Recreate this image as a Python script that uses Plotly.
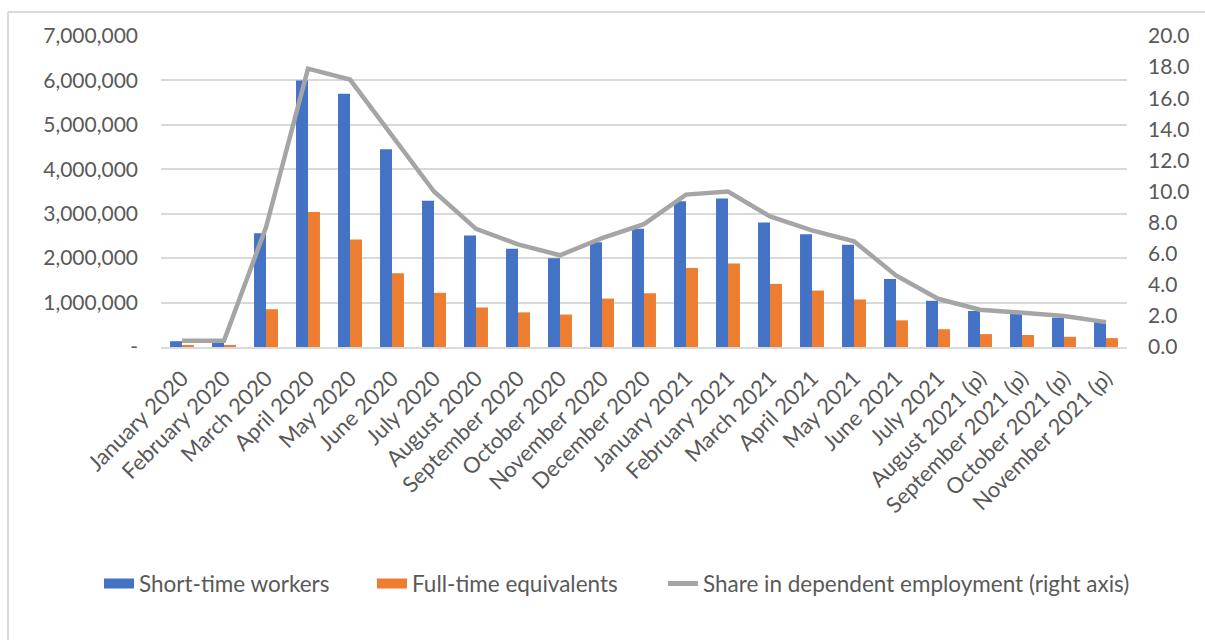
import plotly.graph_objects as go

months = ["January 2020", "February 2020", "March 2020", "April 2020", "May 2020", "June 2020",
          "July 2020", "August 2020", "September 2020", "October 2020", "November 2020",
          "December 2020", "January 2021", "February 2021", "March 2021", "April 2021",
          "May 2021", "June 2021", "July 2021", "August 2021 (p)", "September 2021 (p)",
          "October 2021 (p)", "November 2021 (p)"]

short_time_workers = [130000, 100000, 2560000, 6000000, 5700000, 4450000, 3290000, 2510000,
                      2210000, 2000000, 2360000, 2660000, 3280000, 3340000, 2800000, 2540000,
                      2300000, 1530000, 1040000, 810000, 760000, 660000, 570000]

full_time_equivalents = [40000, 40000, 850000, 3040000, 2420000, 1660000, 1220000, 890000,
                         780000, 730000, 1090000, 1210000, 1780000, 1880000, 1420000, 1270000,
                         1070000, 600000, 400000, 290000, 270000, 230000, 200000]

share_dependent = [0.4, 0.4, 7.7, 17.9, 17.2, 13.6, 10.0, 7.6, 6.6, 5.9, 7.0, 7.9, 9.8, 10.0,
                   8.4, 7.5, 6.8, 4.6, 3.1, 2.4, 2.2, 2.0, 1.6]

left_tickvals = [0, 1000000, 2000000, 3000000, 4000000, 5000000, 6000000, 7000000]
left_ticktext = ["-", "1,000,000", "2,000,000", "3,000,000", "4,000,000", "5,000,000",
                 "6,000,000", "7,000,000"]

FONT = "Lato"
TXT = "#595959"
GRID = "#d9d9d9"
BLUE = "#4472c4"
ORANGE = "#ed7d31"
GREY = "#a5a5a5"

fig = go.Figure()
fig.add_trace(go.Bar(x=months, y=short_time_workers, name="Short-time workers",
                     marker_color=BLUE, marker_line_width=0, showlegend=False))
fig.add_trace(go.Bar(x=months, y=full_time_equivalents, name="Full-time equivalents",
                     marker_color=ORANGE, marker_line_width=0, showlegend=False))
fig.add_trace(go.Scatter(x=months, y=share_dependent, name="Share in dependent employment (right axis)",
                         mode="lines", line=dict(color=GREY, width=4.5), yaxis="y2",
                         showlegend=False))

# legend-only entries (wide swatches like the original), one legend box per entry
fig.add_trace(go.Scatter(x=[None], y=[None], name="Short-time workers", mode="lines",
                         line=dict(color=BLUE, width=14), legend="legend"))
fig.add_trace(go.Scatter(x=[None], y=[None], name="Full-time equivalents", mode="lines",
                         line=dict(color=ORANGE, width=14), legend="legend2"))
fig.add_trace(go.Scatter(x=[None], y=[None], name="Share in dependent employment (right axis)",
                         mode="lines", line=dict(color=GREY, width=5), legend="legend3"))

LEG_FONT = dict(family=FONT, size=22.5, color=TXT)
def leg(x):
    return dict(orientation="h", x=x, xanchor="left", y=-0.762, yanchor="middle",
                font=LEG_FONT, itemwidth=30, bgcolor="rgba(0,0,0,0)")

fig.update_layout(
    width=1205, height=640,
    margin=dict(l=161, r=78, t=36, b=293),
    paper_bgcolor="white", plot_bgcolor="white",
    font=dict(family=FONT, size=21, color=TXT),
    barmode="group", bargap=0.43, bargroupgap=0,
    showlegend=True,
    legend=leg(-0.0642),
    legend2=leg(0.2184),
    legend3=leg(0.5196),
    xaxis=dict(tickangle=-45, showgrid=False, showline=True, linecolor=GRID, linewidth=1.5,
               ticks="", automargin=False, ticklabelstandoff=8,
               tickfont=dict(family=FONT, size=22, color=TXT)),
    yaxis=dict(range=[0, 7000000], tickvals=left_tickvals, ticktext=left_ticktext,
               showgrid=True, gridcolor=GRID, gridwidth=1.5, zeroline=False, automargin=False,
               ticks="", ticklabelstandoff=22, tickfont=dict(family=FONT, size=21, color=TXT)),
    yaxis2=dict(range=[0, 20], dtick=2, tickformat=".1f", overlaying="y", side="right",
                showgrid=False, zeroline=False, ticks="", ticklabelstandoff=20, automargin=False,
                tickfont=dict(family=FONT, size=21, color=TXT)),
    shapes=[
        dict(type="line", xref="paper", yref="paper", x0=-0.1584, x1=-0.1584, y0=1.0772, y1=-1.2,
             line=dict(color=GRID, width=2)),
        dict(type="line", xref="paper", yref="paper", x0=-0.1584, x1=1.2, y0=1.0772, y1=1.0772,
             line=dict(color=GRID, width=2)),
    ],
)

fig.write_html("out.html", config={"displayModeBar": False},
               post_script="document.body.style.margin='0';")
